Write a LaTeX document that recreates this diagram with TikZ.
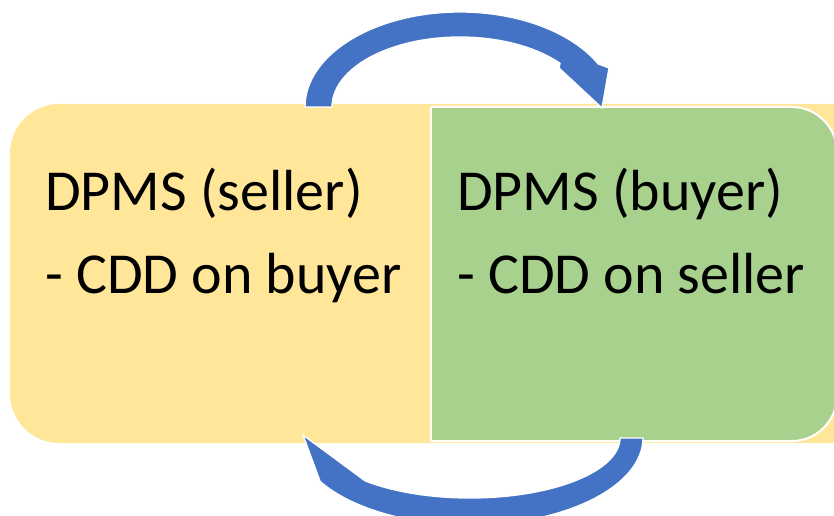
\documentclass[tikz,border=0pt]{standalone}
\usepackage{fontspec}
\setmainfont{Carlito}
\definecolor{paleyellow}{HTML}{FFE699}
\definecolor{palegreen}{HTML}{A9D18E}
\definecolor{arrowblue}{HTML}{4472C4}
\tikzset{
  panel/.style={draw=white, line width=1.5pt},
  curvearrow/.style={fill=arrowblue, draw=white, line width=1pt, line join=miter},
  lbl/.style={anchor=base west, inner sep=0pt, font=\fontsize{43.5}{52}\selectfont, text=black}
}
\begin{document}
\begin{tikzpicture}[x=0.75pt, y=0.75pt]
  \useasboundingbox (0,0) rectangle (834,515);
  \clip (0,0) rectangle (834,515);
  % back panel (seller)
  \fill[paleyellow, rounded corners=37pt] (10,72) rectangle (1000,411);
  % front panel (buyer), square on the left, rounded on the right
  \path[panel, fill=palegreen, rounded corners=34pt] (431,408) -- (837,408) -- (837,74) -- (431,74);
  \draw[white, line width=1.5pt] (431,408) -- (431,74);
  % upper curved arrow: seller -> buyer
  \path[curvearrow] (305,408) arc[start angle=180, end angle=27, x radius=155, y radius=95]
    -- (609,447) -- (602,407) -- (559,447)
    -- ([shift={(460,408)}]38.6:128 and 70)
    arc[start angle=38.6, end angle=180, x radius=128, y radius=70] -- cycle;
  % lower curved arrow: buyer -> seller
  \path[curvearrow] (643,77) arc[start angle=0, end angle=-150, x radius=173, y radius=87]
    -- (303,80)
    -- ([shift={(470,77)}]-134.4:150 and 60)
    arc[start angle=-134.4, end angle=0, x radius=150, y radius=60] -- cycle;
  % labels
  \node[lbl] (s1) at (45,305) {DPMS (seller)};
  \node[lbl] (s2) at (45,222) {- CDD on buyer};
  \node[lbl] (b1) at (457,305) {DPMS (buyer)};
  \node[lbl] (b2) at (457,222) {- CDD on seller};
\end{tikzpicture}
\end{document}
